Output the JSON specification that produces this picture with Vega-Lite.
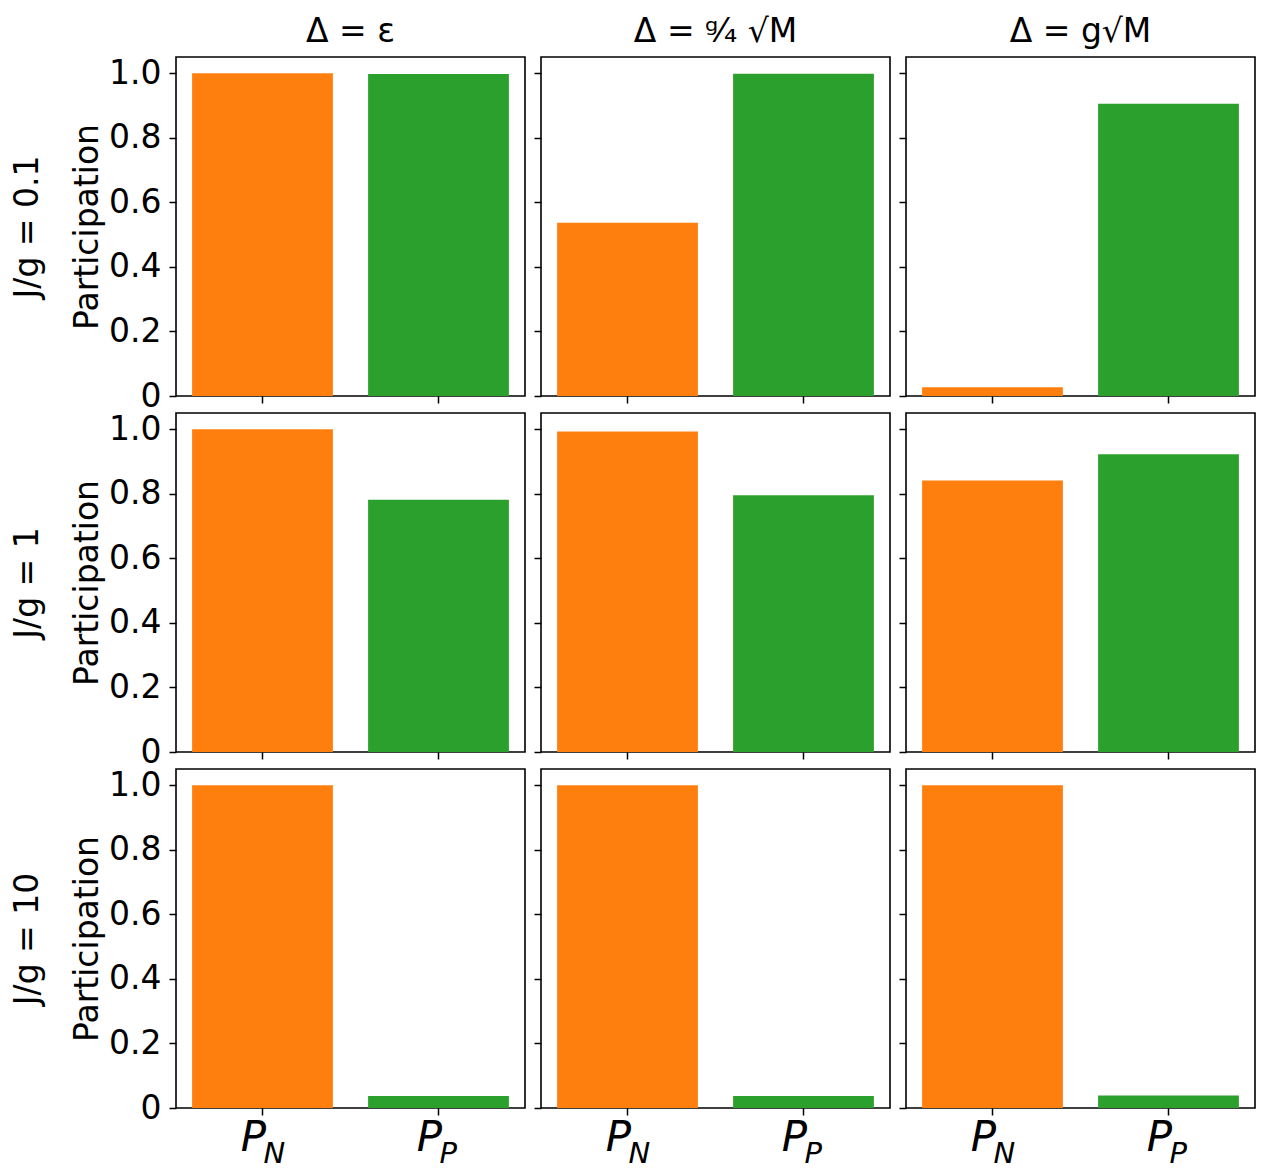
{
  "$schema": "https://vega.github.io/schema/vega-lite/v6.json",
  "padding": {"left": 10, "top": 15, "right": 5, "bottom": 2},
  "background": "white",
  "datasets": {
    "bars": [
      {"row": 1, "col": 1, "var": "PN", "sub": "N", "value": 1.0},
      {"row": 1, "col": 1, "var": "PP", "sub": "P", "value": 0.997},
      {"row": 1, "col": 2, "var": "PN", "sub": "N", "value": 0.537},
      {"row": 1, "col": 2, "var": "PP", "sub": "P", "value": 0.998},
      {"row": 1, "col": 3, "var": "PN", "sub": "N", "value": 0.027},
      {"row": 1, "col": 3, "var": "PP", "sub": "P", "value": 0.905},
      {"row": 2, "col": 1, "var": "PN", "sub": "N", "value": 1.0},
      {"row": 2, "col": 1, "var": "PP", "sub": "P", "value": 0.781},
      {"row": 2, "col": 2, "var": "PN", "sub": "N", "value": 0.993},
      {"row": 2, "col": 2, "var": "PP", "sub": "P", "value": 0.795},
      {"row": 2, "col": 3, "var": "PN", "sub": "N", "value": 0.841},
      {"row": 2, "col": 3, "var": "PP", "sub": "P", "value": 0.922},
      {"row": 3, "col": 1, "var": "PN", "sub": "N", "value": 1.0},
      {"row": 3, "col": 1, "var": "PP", "sub": "P", "value": 0.037},
      {"row": 3, "col": 2, "var": "PN", "sub": "N", "value": 1.0},
      {"row": 3, "col": 2, "var": "PP", "sub": "P", "value": 0.037},
      {"row": 3, "col": 3, "var": "PN", "sub": "N", "value": 1.0},
      {"row": 3, "col": 3, "var": "PP", "sub": "P", "value": 0.039}
    ]
  },
  "config": {
    "font": "DejaVu Sans",
    "view": {"stroke": "black", "strokeWidth": 1.6},
    "axis": {
      "domain": false, "grid": false,
      "tickColor": "black", "tickWidth": 1.5, "tickSize": 7,
      "labelColor": "black", "labelFont": "DejaVu Sans", "labelFontSize": 33, "labelPadding": 8,
      "titleFont": "DejaVu Sans", "titleFontSize": 33, "titleFontWeight": "normal", "titleColor": "black",
      "titlePadding": 4, "titleLineHeight": 60
    },
    "title": {"font": "DejaVu Sans", "fontSize": 33, "fontWeight": "normal", "color": "black", "baseline": "alphabetic", "offset": 8, "anchor": "middle"}
  },
  "columns": 3,
  "align": "each",
  "bounds": "flush",
  "spacing": {"row": 17, "column": 16},
  "concat": [
    {
      "width": 349, "height": 339, "title": "Δ = ε",
      "data": {"name": "bars"},
      "transform": [{"filter": "datum.row == 1 && datum.col == 1"}],
      "encoding": {
        "x": {"field": "var", "type": "nominal", "sort": ["PN", "PP"], "scale": {"paddingInner": 0.2, "paddingOuter": 0.0915}, "axis": {"title": null, "labels": false}},
        "y": {"field": "value", "type": "quantitative", "scale": {"domain": [0, 1.05], "nice": false, "zero": true}, "axis": {"values": [0, 0.2, 0.4, 0.6, 0.8, 1.0], "labelExpr": "datum.value == 0 ? '0' : format(datum.value, '.1f')", "title": ["J/g = 0.1", "Participation"]}}
      },
      "layer": [
        {"mark": {"type": "bar"}, "encoding": {"color": {"field": "var", "type": "nominal", "scale": {"domain": ["PN", "PP"], "range": ["#ff7f0e", "#2ca02c"]}, "legend": null}}}
      ]
    },
    {
      "width": 349, "height": 339, "title": "Δ = ᵍ⁄₄ √M",
      "data": {"name": "bars"},
      "transform": [{"filter": "datum.row == 1 && datum.col == 2"}],
      "encoding": {
        "x": {"field": "var", "type": "nominal", "sort": ["PN", "PP"], "scale": {"paddingInner": 0.2, "paddingOuter": 0.0915}, "axis": {"title": null, "labels": false}},
        "y": {"field": "value", "type": "quantitative", "scale": {"domain": [0, 1.05], "nice": false, "zero": true}, "axis": {"values": [0, 0.2, 0.4, 0.6, 0.8, 1.0], "labels": false, "title": null}}
      },
      "layer": [
        {"mark": {"type": "bar"}, "encoding": {"color": {"field": "var", "type": "nominal", "scale": {"domain": ["PN", "PP"], "range": ["#ff7f0e", "#2ca02c"]}, "legend": null}}}
      ]
    },
    {
      "width": 349, "height": 339, "title": "Δ = g√M",
      "data": {"name": "bars"},
      "transform": [{"filter": "datum.row == 1 && datum.col == 3"}],
      "encoding": {
        "x": {"field": "var", "type": "nominal", "sort": ["PN", "PP"], "scale": {"paddingInner": 0.2, "paddingOuter": 0.0915}, "axis": {"title": null, "labels": false}},
        "y": {"field": "value", "type": "quantitative", "scale": {"domain": [0, 1.05], "nice": false, "zero": true}, "axis": {"values": [0, 0.2, 0.4, 0.6, 0.8, 1.0], "labels": false, "title": null}}
      },
      "layer": [
        {"mark": {"type": "bar"}, "encoding": {"color": {"field": "var", "type": "nominal", "scale": {"domain": ["PN", "PP"], "range": ["#ff7f0e", "#2ca02c"]}, "legend": null}}}
      ]
    },
    {
      "width": 349, "height": 339,
      "data": {"name": "bars"},
      "transform": [{"filter": "datum.row == 2 && datum.col == 1"}],
      "encoding": {
        "x": {"field": "var", "type": "nominal", "sort": ["PN", "PP"], "scale": {"paddingInner": 0.2, "paddingOuter": 0.0915}, "axis": {"title": null, "labels": false}},
        "y": {"field": "value", "type": "quantitative", "scale": {"domain": [0, 1.05], "nice": false, "zero": true}, "axis": {"values": [0, 0.2, 0.4, 0.6, 0.8, 1.0], "labelExpr": "datum.value == 0 ? '0' : format(datum.value, '.1f')", "title": ["J/g = 1", "Participation"]}}
      },
      "layer": [
        {"mark": {"type": "bar"}, "encoding": {"color": {"field": "var", "type": "nominal", "scale": {"domain": ["PN", "PP"], "range": ["#ff7f0e", "#2ca02c"]}, "legend": null}}}
      ]
    },
    {
      "width": 349, "height": 339,
      "data": {"name": "bars"},
      "transform": [{"filter": "datum.row == 2 && datum.col == 2"}],
      "encoding": {
        "x": {"field": "var", "type": "nominal", "sort": ["PN", "PP"], "scale": {"paddingInner": 0.2, "paddingOuter": 0.0915}, "axis": {"title": null, "labels": false}},
        "y": {"field": "value", "type": "quantitative", "scale": {"domain": [0, 1.05], "nice": false, "zero": true}, "axis": {"values": [0, 0.2, 0.4, 0.6, 0.8, 1.0], "labels": false, "title": null}}
      },
      "layer": [
        {"mark": {"type": "bar"}, "encoding": {"color": {"field": "var", "type": "nominal", "scale": {"domain": ["PN", "PP"], "range": ["#ff7f0e", "#2ca02c"]}, "legend": null}}}
      ]
    },
    {
      "width": 349, "height": 339,
      "data": {"name": "bars"},
      "transform": [{"filter": "datum.row == 2 && datum.col == 3"}],
      "encoding": {
        "x": {"field": "var", "type": "nominal", "sort": ["PN", "PP"], "scale": {"paddingInner": 0.2, "paddingOuter": 0.0915}, "axis": {"title": null, "labels": false}},
        "y": {"field": "value", "type": "quantitative", "scale": {"domain": [0, 1.05], "nice": false, "zero": true}, "axis": {"values": [0, 0.2, 0.4, 0.6, 0.8, 1.0], "labels": false, "title": null}}
      },
      "layer": [
        {"mark": {"type": "bar"}, "encoding": {"color": {"field": "var", "type": "nominal", "scale": {"domain": ["PN", "PP"], "range": ["#ff7f0e", "#2ca02c"]}, "legend": null}}}
      ]
    },
    {
      "width": 349, "height": 339,
      "data": {"name": "bars"},
      "transform": [{"filter": "datum.row == 3 && datum.col == 1"}],
      "encoding": {
        "x": {"field": "var", "type": "nominal", "sort": ["PN", "PP"], "scale": {"paddingInner": 0.2, "paddingOuter": 0.0915}, "axis": {"title": null, "labelExpr": "'P'", "labelAngle": 0, "labelAlign": "center", "labelBaseline": "top", "labelFontSize": 42, "labelFontStyle": "italic", "labelOffset": -9, "labelPadding": 2}},
        "y": {"field": "value", "type": "quantitative", "scale": {"domain": [0, 1.05], "nice": false, "zero": true}, "axis": {"values": [0, 0.2, 0.4, 0.6, 0.8, 1.0], "labelExpr": "datum.value == 0 ? '0' : format(datum.value, '.1f')", "title": ["J/g = 10", "Participation"]}}
      },
      "layer": [
        {"mark": {"type": "bar"}, "encoding": {"color": {"field": "var", "type": "nominal", "scale": {"domain": ["PN", "PP"], "range": ["#ff7f0e", "#2ca02c"]}, "legend": null}}},
        {"mark": {"type": "text", "fontSize": 29, "fontStyle": "italic", "align": "left", "baseline": "alphabetic", "dx": 1, "dy": 55, "color": "black"}, "encoding": {"y": {"datum": 0, "type": "quantitative"}, "text": {"field": "sub"}}}
      ]
    },
    {
      "width": 349, "height": 339,
      "data": {"name": "bars"},
      "transform": [{"filter": "datum.row == 3 && datum.col == 2"}],
      "encoding": {
        "x": {"field": "var", "type": "nominal", "sort": ["PN", "PP"], "scale": {"paddingInner": 0.2, "paddingOuter": 0.0915}, "axis": {"title": null, "labelExpr": "'P'", "labelAngle": 0, "labelAlign": "center", "labelBaseline": "top", "labelFontSize": 42, "labelFontStyle": "italic", "labelOffset": -9, "labelPadding": 2}},
        "y": {"field": "value", "type": "quantitative", "scale": {"domain": [0, 1.05], "nice": false, "zero": true}, "axis": {"values": [0, 0.2, 0.4, 0.6, 0.8, 1.0], "labels": false, "title": null}}
      },
      "layer": [
        {"mark": {"type": "bar"}, "encoding": {"color": {"field": "var", "type": "nominal", "scale": {"domain": ["PN", "PP"], "range": ["#ff7f0e", "#2ca02c"]}, "legend": null}}},
        {"mark": {"type": "text", "fontSize": 29, "fontStyle": "italic", "align": "left", "baseline": "alphabetic", "dx": 1, "dy": 55, "color": "black"}, "encoding": {"y": {"datum": 0, "type": "quantitative"}, "text": {"field": "sub"}}}
      ]
    },
    {
      "width": 349, "height": 339,
      "data": {"name": "bars"},
      "transform": [{"filter": "datum.row == 3 && datum.col == 3"}],
      "encoding": {
        "x": {"field": "var", "type": "nominal", "sort": ["PN", "PP"], "scale": {"paddingInner": 0.2, "paddingOuter": 0.0915}, "axis": {"title": null, "labelExpr": "'P'", "labelAngle": 0, "labelAlign": "center", "labelBaseline": "top", "labelFontSize": 42, "labelFontStyle": "italic", "labelOffset": -9, "labelPadding": 2}},
        "y": {"field": "value", "type": "quantitative", "scale": {"domain": [0, 1.05], "nice": false, "zero": true}, "axis": {"values": [0, 0.2, 0.4, 0.6, 0.8, 1.0], "labels": false, "title": null}}
      },
      "layer": [
        {"mark": {"type": "bar"}, "encoding": {"color": {"field": "var", "type": "nominal", "scale": {"domain": ["PN", "PP"], "range": ["#ff7f0e", "#2ca02c"]}, "legend": null}}},
        {"mark": {"type": "text", "fontSize": 29, "fontStyle": "italic", "align": "left", "baseline": "alphabetic", "dx": 1, "dy": 55, "color": "black"}, "encoding": {"y": {"datum": 0, "type": "quantitative"}, "text": {"field": "sub"}}}
      ]
    }
  ]
}
